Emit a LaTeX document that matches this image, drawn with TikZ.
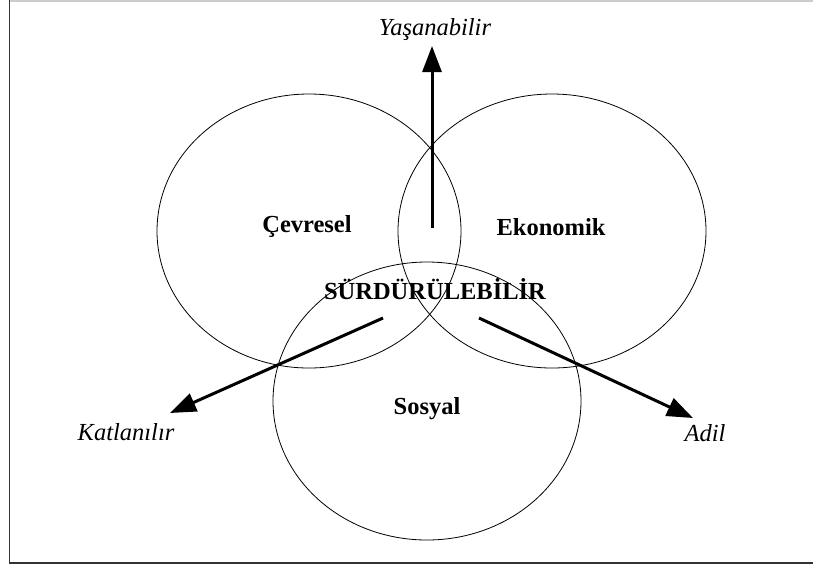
\documentclass[tikz,border=0pt]{standalone}
\usepackage{fontspec}
\setmainfont{Liberation Serif}
\usetikzlibrary{arrows.meta}
\begin{document}
\begin{tikzpicture}[x=1pt,y=-1pt,
  ring/.style={draw=black, line width=0.8pt},
  thick arrow/.style={line width=3pt, -{Triangle[length=26pt,width=19pt]}},
  setlabel/.style={font=\bfseries\fontsize{24.5}{28}\selectfont, inner sep=0pt},
  dirlabel/.style={font=\itshape\fontsize{24.5}{28}\selectfont, inner sep=0pt}]
\useasboundingbox (0,0) rectangle (813,566);
\draw[gray!40, line width=1.5pt] (9.5,0.75) -- (813,0.75);
\draw[black!80, line width=1.5pt] (9.5,0) -- (9.5,563) -- (813,563);
% circles
\draw[ring] (309,231) ellipse [x radius=152, y radius=137];
\draw[ring] (552,231) ellipse [x radius=154, y radius=137];
\draw[ring] (427,401) ellipse [x radius=154, y radius=139];
% labels
\node[setlabel] (cev) at (307,227) {Çevresel};
\node[setlabel] (eko) at (551,227) {Ekonomik};
\node[setlabel] (sur) at (435,289) {SÜRDÜRÜLEBİLİR};
\node[setlabel] (sos) at (427,409) {Sosyal};
\node[dirlabel] (yas) at (435,30) {Yaşanabilir};
\node[dirlabel] (kat) at (126,432) {Katlanılır};
\node[dirlabel] (adi) at (705,433) {Adil};
% arrows
\coordinate (upS) at (432,228);
\coordinate (upE) at (432,46);
\coordinate (lS) at (383,318);
\coordinate (lE) at (170,413);
\coordinate (rS) at (479,318);
\coordinate (rE) at (693,418);
\draw[thick arrow] (upS) -- (upE);
\draw[thick arrow] (lS) -- (lE);
\draw[thick arrow] (rS) -- (rE);
\end{tikzpicture}
\end{document}
